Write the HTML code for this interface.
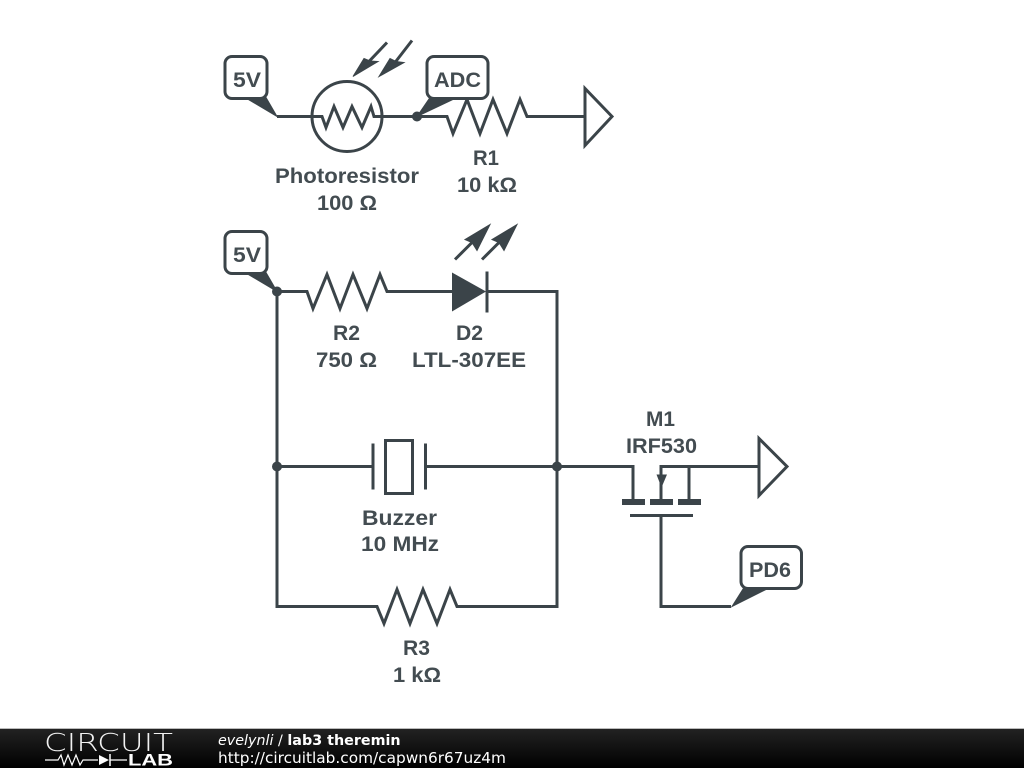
<!DOCTYPE html>
<html>
<head>
<meta charset="utf-8">
<title>lab3 theremin</title>
<style>
html,body{margin:0;padding:0;background:#fff;width:1024px;height:768px;overflow:hidden}
svg{display:block}
.w{fill:none;stroke:#3b4449;stroke-width:3;stroke-linejoin:miter}
.f{fill:#3b4449;stroke:none}
.p{fill:#3b4449;stroke:#3b4449;stroke-width:1}
.box{fill:#fff;stroke:#3b4449;stroke-width:3}
.t{font-family:"Liberation Sans",sans-serif;font-weight:bold;font-size:21px;fill:#434c51;text-anchor:middle}
.ft{font-family:"DejaVu Sans",sans-serif;fill:#fff}
</style>
</head>
<body>
<svg width="1024" height="768" viewBox="0 0 1024 768" xmlns="http://www.w3.org/2000/svg">
<defs>
<linearGradient id="g" x1="0" y1="0" x2="0" y2="1">
<stop offset="0" stop-color="#222"/><stop offset="0.5" stop-color="#111"/><stop offset="1" stop-color="#000"/>
</linearGradient>
</defs>
<rect width="1024" height="768" fill="#fff"/>

<g transform="translate(0,0.5)">
<!-- top circuit -->
<polyline class="w" points="277,116 312,116"/>
<circle class="w" cx="347" cy="116" r="35"/>
<polyline class="w" points="312,116 322,116 326,127 334,106 343,127 352,106 362,127 371,106 374,116 417,116"/>
<polyline class="w" points="417,116 447,116 453,133 467,99 480,133 493,99 507,133 520,99 527,116 585,116"/>
<polygon class="w" points="585,88 585,145 612,116" style="fill:#fff"/>
<circle class="f" cx="417" cy="116" r="5"/>
<!-- light arrows in -->
<line class="w" x1="387" y1="42" x2="368" y2="62"/>
<polygon class="p" points="353,76 364,58 370,60.500 378,61"/>
<line class="w" x1="412" y1="40" x2="395" y2="62"/>
<polygon class="p" points="379,76 390,58 396,61 404,62"/>
<!-- 5V top -->
<polygon class="p" points="245,97 266,97 277,116"/>
<rect class="box" x="225" y="56" width="42" height="42" rx="7"/>
<!-- ADC -->
<polygon class="p" points="430,97 457,97 417,116"/>
<rect class="box" x="427" y="56" width="61" height="42" rx="7"/>

<!-- lower circuit -->
<polyline class="w" points="277,291 307,291 313,308 327,274 340,308 353,274 367,308 380,274 387,291 452,291"/>
<polyline class="w" points="487,291 557,291 557,606 457,606 450,589 437,623 423,589 410,623 397,589 384,623 377,606 277,606 277,291"/>
<polygon class="f" points="452,272 486,291 452,311"/>
<line class="w" x1="487" y1="271" x2="487" y2="312"/>
<line class="w" x1="455" y1="259" x2="476" y2="238"/>
<polygon class="p" points="490,224 477,250 472,242 465,239"/>
<line class="w" x1="482" y1="259" x2="503" y2="238"/>
<polygon class="p" points="517,224 504,250 499,242 492,239"/>
<circle class="f" cx="277" cy="291" r="5"/>
<polygon class="p" points="245,272 266,272 277,291"/>
<rect class="box" x="225" y="231" width="42" height="42" rx="7"/>

<!-- buzzer -->
<line class="w" x1="277" y1="466" x2="373" y2="466"/>
<line class="w" x1="373" y1="443" x2="373" y2="489"/>
<rect class="w" x="385.500" y="440" width="27" height="53"/>
<line class="w" x1="425.500" y1="443" x2="425.500" y2="489"/>
<line class="w" x1="425.500" y1="466" x2="557" y2="466"/>
<circle class="f" cx="277" cy="466" r="5"/>
<circle class="f" cx="557" cy="466" r="5"/>

<!-- mosfet -->
<polyline class="w" points="557,466 633,466 633,500"/>
<polyline class="w" points="661,500 661,466 759,466"/>
<line class="w" x1="689" y1="466" x2="689" y2="500"/>
<rect class="f" x="622" y="498.500" width="23" height="6"/>
<rect class="f" x="650" y="498.500" width="23" height="6"/>
<rect class="f" x="678" y="498.500" width="23" height="6"/>
<polygon class="f" points="656.500,474 667,474 661.500,487"/>
<line class="w" x1="630" y1="515" x2="693" y2="515"/>
<polyline class="w" points="661,515 661,606 731,606"/>
<polygon class="w" points="759,438 759,495 787,466" style="fill:#fff"/>
<polygon class="p" points="744,587 770,587 732,606"/>
<rect class="box" x="741" y="546" width="60.500" height="42" rx="7"/>
</g>

<!-- labels -->
<text class="t" x="247" y="87" textLength="28" lengthAdjust="spacingAndGlyphs">5V</text>
<text class="t" x="457.500" y="87" textLength="47" lengthAdjust="spacingAndGlyphs">ADC</text>
<text class="t" x="347" y="183" textLength="144" lengthAdjust="spacingAndGlyphs">Photoresistor</text>
<text class="t" x="347" y="210" textLength="60" lengthAdjust="spacingAndGlyphs">100 Ω</text>
<text class="t" x="486" y="165" textLength="26" lengthAdjust="spacingAndGlyphs">R1</text>
<text class="t" x="487" y="192" textLength="60" lengthAdjust="spacingAndGlyphs">10 kΩ</text>
<text class="t" x="247" y="262" textLength="28" lengthAdjust="spacingAndGlyphs">5V</text>
<text class="t" x="346.500" y="340" textLength="27" lengthAdjust="spacingAndGlyphs">R2</text>
<text class="t" x="346.500" y="367" textLength="61" lengthAdjust="spacingAndGlyphs">750 Ω</text>
<text class="t" x="469.500" y="340" textLength="27" lengthAdjust="spacingAndGlyphs">D2</text>
<text class="t" x="469" y="367" textLength="114" lengthAdjust="spacingAndGlyphs">LTL-307EE</text>
<text class="t" x="399.500" y="525" textLength="75" lengthAdjust="spacingAndGlyphs">Buzzer</text>
<text class="t" x="400" y="551" textLength="78" lengthAdjust="spacingAndGlyphs">10 MHz</text>
<text class="t" x="416.500" y="655" textLength="27" lengthAdjust="spacingAndGlyphs">R3</text>
<text class="t" x="417" y="682" textLength="48" lengthAdjust="spacingAndGlyphs">1 kΩ</text>
<text class="t" x="660.500" y="426" textLength="29" lengthAdjust="spacingAndGlyphs">M1</text>
<text class="t" x="661.500" y="453" textLength="71" lengthAdjust="spacingAndGlyphs">IRF530</text>
<text class="t" x="770" y="577" textLength="42" lengthAdjust="spacingAndGlyphs">PD6</text>

<!-- footer -->
<rect x="0" y="728" width="1024" height="1" fill="#bbb"/>
<rect x="0" y="729" width="1024" height="39" fill="url(#g)"/>
<text x="44" y="751" textLength="129" lengthAdjust="spacingAndGlyphs" style="font-family:'DejaVu Sans ExtraLight','DejaVu Sans',sans-serif;font-weight:200;font-size:24.500px;fill:#f2f2f2">CIRCUIT</text>
<polyline points="45,760 58,760 61,755 64,765 68,755 72,765 76,755 80,765 83,760 98,760" fill="none" stroke="#fff" stroke-width="1.200"/>
<polygon points="99,755 109,760 99,765" fill="#fff"/>
<line x1="110" y1="754" x2="110" y2="766" stroke="#fff" stroke-width="1.500"/>
<line x1="110" y1="760" x2="127" y2="760" stroke="#fff" stroke-width="1.200"/>
<text x="128" y="765.500" textLength="45" lengthAdjust="spacingAndGlyphs" style="font-family:'Liberation Sans',sans-serif;font-weight:bold;font-size:17px;fill:#fff">LAB</text>
<text class="ft" x="218" y="745" font-size="14.300"><tspan font-style="italic">evelynli</tspan> / <tspan font-weight="bold">lab3 theremin</tspan></text>
<text class="ft" x="218" y="763" font-size="15" textLength="288" lengthAdjust="spacingAndGlyphs">http://circuitlab.com/capwn6r67uz4m</text>
</svg>
</body>
</html>
